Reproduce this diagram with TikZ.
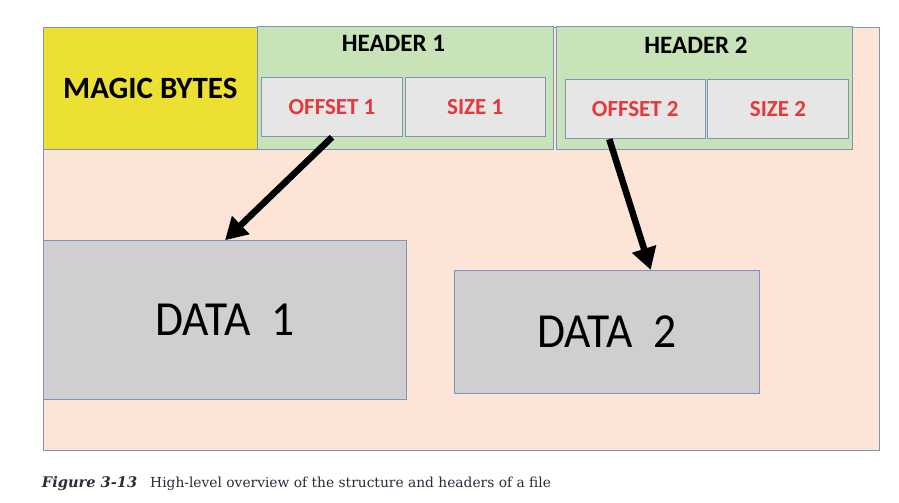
\documentclass[tikz,border=0pt]{standalone}
\usepackage{fontspec}
\usetikzlibrary{arrows.meta}

\newfontfamily\boxfont{Carlito}                       % Calibri widths for the box texts
\newfontfamily\datafont[FakeStretch=0.93]{Carlito}    % the big DATA texts are a bit narrow
\newfontfamily\capfont{DejaVu Serif}                  % caption under the picture

\definecolor{filebg}{HTML}{FCE5D7}
\definecolor{magicbg}{HTML}{ECE132}
\definecolor{headbg}{HTML}{C8E3B8}
\definecolor{fieldbg}{HTML}{E7E6E6}
\definecolor{databg}{HTML}{D0CECE}
\definecolor{edge}{HTML}{7F93BD}
\definecolor{fieldtxt}{HTML}{E6383B}
\definecolor{captxt}{HTML}{2B2B3A}

\begin{document}
\begin{tikzpicture}[x=1pt,y=-1pt]

      % plain boxes, sizes are given per box
      \tikzstyle{cell}=[draw=edge, line width=0.9pt, inner sep=0pt]
      \tikzstyle{title}=[inner sep=0pt, font=\boxfont\bfseries\fontsize{25}{26}\selectfont]
      \tikzstyle{field}=[cell, fill=fieldbg, minimum width=140.5pt, minimum height=59.5pt, text=fieldtxt, font=\boxfont\bfseries\fontsize{23}{24}\selectfont]
      \tikzstyle{datum}=[cell, fill=databg, font=\datafont\fontsize{49}{50}\selectfont]
      \tikzstyle{ptr}=[line width=6.5pt, -{Triangle[length=22pt,width=24pt]}]

      \useasboundingbox (0,0) rectangle (899,503);

      \node[cell, fill=filebg, minimum width=836pt, minimum height=423.5pt] (file) at (461.3,239) {};
      \node[cell, fill=magicbg, minimum width=214pt, minimum height=122pt, font=\boxfont\bfseries\fontsize{31}{32}\selectfont] (magic) at (150.3,88.3) {MAGIC BYTES};

      % the two headers: number / box centre / title x / offset x / size x / field y
      \foreach \n/\hx/\tx/\ox/\sx/\fy in {1/405.3/393.5/332/475.2/107, 2/704.7/696/635.3/778/109}{
        \node[cell, fill=headbg, minimum width=296pt, minimum height=122.6pt] (head\n) at (\hx,88) {};
        \node[title] (title\n) at (\tx,43+2*\n-2) {HEADER \n};
        \node[field] (off\n) at (\ox,\fy) {OFFSET \n};
        \node[field] (size\n) at (\sx,\fy) {SIZE \n};
      }

      \node[datum, minimum width=363.4pt, minimum height=158.6pt] (data1) at (225,320) {DATA~~1};
      \node[datum, minimum width=305pt, minimum height=122.7pt] (data2) at (606.7,331.7) {DATA~~2};

      \draw[ptr] (off1.south) -- (data1.north);
      \draw[ptr] ([xshift=-26pt]off2.south) -- ([xshift=44pt]data2.north);

      \node[anchor=base west, inner sep=0pt, text=captxt, font=\capfont\fontsize{13.8}{16}\selectfont] (caption) at (41.7,487.3)
        {{\bfseries\itshape\fontsize{14.6}{16}\selectfont Figure 3-13}\hspace{13pt}High-level overview of the structure and headers of a file};

\end{tikzpicture}
\end{document}
